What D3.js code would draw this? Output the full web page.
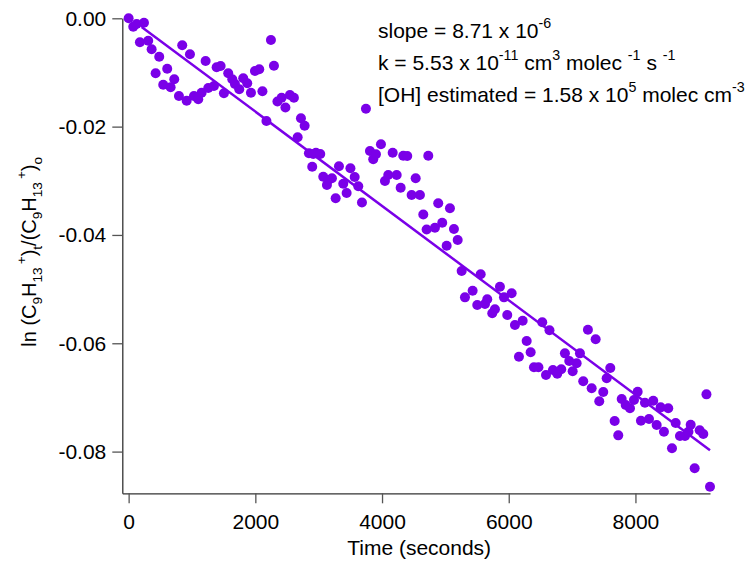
<!DOCTYPE html>
<html>
<head>
<meta charset="utf-8">
<script src="https://cdn.jsdelivr.net/npm/d3@7"></script>
<style>
  body { margin: 0; background: #fff; }
  text { font-family: "Liberation Sans", Arial, sans-serif; fill: #000; }
</style>
</head>
<body>
<div id="chart"></div>
<script>
// decay of C9H13+ signal vs time
var timeSec = [0, 73, 126, 178, 242, 309, 363, 426, 483, 546, 609, 663, 720, 794, 846, 916, 968, 1031, 1099, 1152,
  1215, 1257, 1347, 1389, 1452, 1504, 1572, 1636, 1678, 1746, 1809, 1872, 1931, 1994, 2062, 2112, 2175, 2246, 2294, 2349,
  2415, 2475, 2546, 2609, 2668, 2720, 2778, 2846, 2898, 2914, 2957, 3025, 3072, 3130, 3151, 3209, 3268, 3320, 3388, 3441,
  3501, 3568, 3625, 3683, 3746, 3809, 3861, 3904, 3983, 4046, 4098, 4168, 4231, 4294, 4335, 4398, 4467, 4531, 4598, 4651,
  4704, 4730, 4835, 4887, 4950, 5020, 5072, 5135, 5194, 5257, 5309, 5430, 5503, 5557, 5625, 5661, 5740, 5782, 5861, 5925,
  5977, 6046, 6098, 6161, 6220, 6283, 6346, 6398, 6469, 6529, 6588, 6643, 6698, 6766, 6829, 6887, 6955, 7009, 7072, 7124,
  7176, 7250, 7309, 7372, 7429, 7492, 7546, 7603, 7672, 7729, 7783, 7846, 7914, 7977, 8035, 8087, 8150, 8214, 8281, 8335,
  8398, 8450, 8518, 8577, 8635, 8703, 8782, 8837, 8872, 8935, 9014, 9071, 9121, 9177];

var lnRatio = [0, -0.00155, -0.00105, -0.00443, -0.00081, -0.00414, -0.00572, -0.01016, -0.00709, -0.01226, -0.00931, -0.01274, -0.01126, -0.01435, -0.00499, -0.01521, -0.00665, -0.01435, -0.01496, -0.01374,
  -0.00788, -0.01287, -0.0125, -0.00905, -0.00881, -0.01385, -0.01016, -0.01126, -0.01213, -0.01311, -0.01108, -0.012, -0.01374, -0.00973, -0.00942, -0.01348, -0.01896, -0.00401, -0.00877, -0.01536,
  -0.01466, -0.01647, -0.01416, -0.01466, -0.02197, -0.01846, -0.01983, -0.02493, -0.0274, -0.02506, -0.02482, -0.02506, -0.02925, -0.03078, -0.02986, -0.02954, -0.03323, -0.02733, -0.03054, -0.03226,
  -0.0277, -0.0293, -0.03102, -0.03401, -0.01669, -0.0245, -0.02603, -0.02511, -0.02326, -0.03004, -0.02893, -0.02482, -0.02893, -0.03128, -0.02537, -0.02543, -0.03263, -0.02954, -0.03263, -0.03623,
  -0.039, -0.02537, -0.03866, -0.03416, -0.03774, -0.04199, -0.03508, -0.0389, -0.04094, -0.04666, -0.05152, -0.0503, -0.05294, -0.04727, -0.05275, -0.05188, -0.05447, -0.05373, -0.04956, -0.05152,
  -0.05478, -0.05078, -0.05663, -0.06248, -0.05584, -0.05958, -0.06167, -0.06444, -0.06444, -0.05613, -0.06586, -0.05761, -0.06494, -0.06564, -0.06481, -0.06186, -0.06328, -0.06518, -0.0637, -0.06186,
  -0.06702, -0.0575, -0.06832, -0.05927, -0.07072, -0.069, -0.06647, -0.06457, -0.07436, -0.077, -0.07029, -0.0714, -0.07201, -0.07048, -0.06894, -0.0743, -0.07098, -0.07399, -0.07061, -0.07509,
  -0.07183, -0.07633, -0.07201, -0.07938, -0.07473, -0.07712, -0.07712, -0.07633, -0.07504, -0.08309, -0.07607, -0.07676, -0.06943, -0.08649];

// linear fit
var fitSlope = -8.71e-6;
var fitIntercept = 0.0002;
var fitRange = [205, 9177];

var xTicks = [0, 2000, 4000, 6000, 8000];
var yTicks = [0, -0.02, -0.04, -0.06, -0.08];

var xLabel = 'Time (seconds)';
var yLabelParts = [
  { t: 'ln (C' }, { t: '9', s: 'sub' }, { t: 'H' }, { t: '13', s: 'sub' }, { t: '+', s: 'sup', dx: 3 },
  { t: ')' }, { t: 't', s: 'sub' }, { t: '/(C' }, { t: '9', s: 'sub' }, { t: 'H' }, { t: '13', s: 'sub' },
  { t: '+', s: 'sup', dx: 3 }, { t: ')' }, { t: 'o', s: 'sub' }
];
var noteLines = [
  [{ t: 'slope = 8.71 x 10' }, { t: '-6', s: 'sup' }],
  [{ t: 'k = 5.53 x 10' }, { t: '-11', s: 'sup' }, { t: ' cm' }, { t: '3', s: 'sup' }, { t: ' molec ' }, { t: '-1', s: 'sup' }, { t: ' s ' }, { t: '-1', s: 'sup' }],
  [{ t: '[OH] estimated = 1.58 x 10' }, { t: '5', s: 'sup' }, { t: ' molec cm' }, { t: '-3', s: 'sup' }]
];

var color = '#7a00e8';
var fontSize = 21;

var W = 756, H = 562;
var margin = { top: 18.3, right: 46, bottom: 68.7, left: 122.3 },
    width = W - margin.left - margin.right,
    height = H - margin.top - margin.bottom;

var svg = d3.select('#chart')
  .append('svg')
  .attr('width', W)
  .attr('height', H);

var g = svg.append('g')
  .attr('transform', 'translate(' + margin.left + ',' + margin.top + ')');

var xScale = d3.scaleLinear()
  .domain([-100, 9177])
  .range([0, width]);

var yScale = d3.scaleLinear()
  .domain([-0.0877, 0])
  .range([height, 0]);

var xAxis = d3.axisBottom(xScale)
  .tickValues(xTicks)
  .tickFormat(d3.format('d'))
  .tickSizeInner(10)
  .tickSizeOuter(0)
  .tickPadding(11);

var yAxis = d3.axisLeft(yScale)
  .tickValues(yTicks)
  .tickFormat(function (d) { return d === 0 ? '0.00' : d.toFixed(2); })
  .tickSizeInner(10)
  .tickSizeOuter(0)
  .tickPadding(6);

var xAxisG = g.append('g')
  .attr('transform', 'translate(0,' + height + ')')
  .call(xAxis);

var yAxisG = g.append('g')
  .call(yAxis);

g.selectAll('.domain').attr('stroke', '#333').attr('stroke-width', 1.3);
g.selectAll('.tick line').attr('stroke', '#555').attr('stroke-width', 1.3);
g.selectAll('.tick text')
  .attr('fill', '#000')
  .style('font-family', '"Liberation Sans", Arial, sans-serif')
  .style('font-size', fontSize + 'px');

// fit line
var fitData = fitRange.map(function (t) { return { t: t, v: fitIntercept + fitSlope * t }; });
g.append('path')
  .datum(fitData)
  .attr('fill', 'none')
  .attr('stroke', color)
  .attr('stroke-width', 2.5)
  .attr('d', d3.line().x(d => xScale(d.t)).y(d => yScale(d.v)));

// points
var points = timeSec.map(function (t, i) { return { t: t, v: lnRatio[i] }; });
g.selectAll('circle').data(points)
  .enter().append('circle')
  .attr('cx', d => xScale(d.t))
  .attr('cy', d => yScale(d.v))
  .attr('r', 5)
  .attr('fill', color);

// text with sub/superscripts
function richText(sel, parts, size) {
  var shift = 0;
  parts.forEach(function (p) {
    var target = p.s === 'sup' ? -size * 0.5 : (p.s === 'sub' ? size * 0.3 : 0);
    var ts = sel.append('tspan')
      .attr('dy', target - shift)
      .style('font-size', (p.s ? size * 0.68 : size) + 'px')
      .text(p.t);
    if (p.dx) ts.attr('dx', p.dx);
    shift = target;
  });
}

// axis labels
svg.append('text')
  .attr('x', margin.left + width / 2 + 3)
  .attr('y', 555)
  .attr('text-anchor', 'middle')
  .style('font-size', fontSize + 'px')
  .text(xLabel);

var yLab = svg.append('text')
  .attr('transform', 'translate(36,' + (margin.top + height / 2 - 4) + ') rotate(-90)')
  .attr('text-anchor', 'middle')
  .style('font-size', '20px');
richText(yLab, yLabelParts, 20);

// annotation
noteLines.forEach(function (line, i) {
  var t = svg.append('text')
    .attr('x', 378)
    .attr('y', 38 + i * 32)
    .style('font-size', fontSize + 'px');
  richText(t, line, fontSize);
});
</script>
</body>
</html>
